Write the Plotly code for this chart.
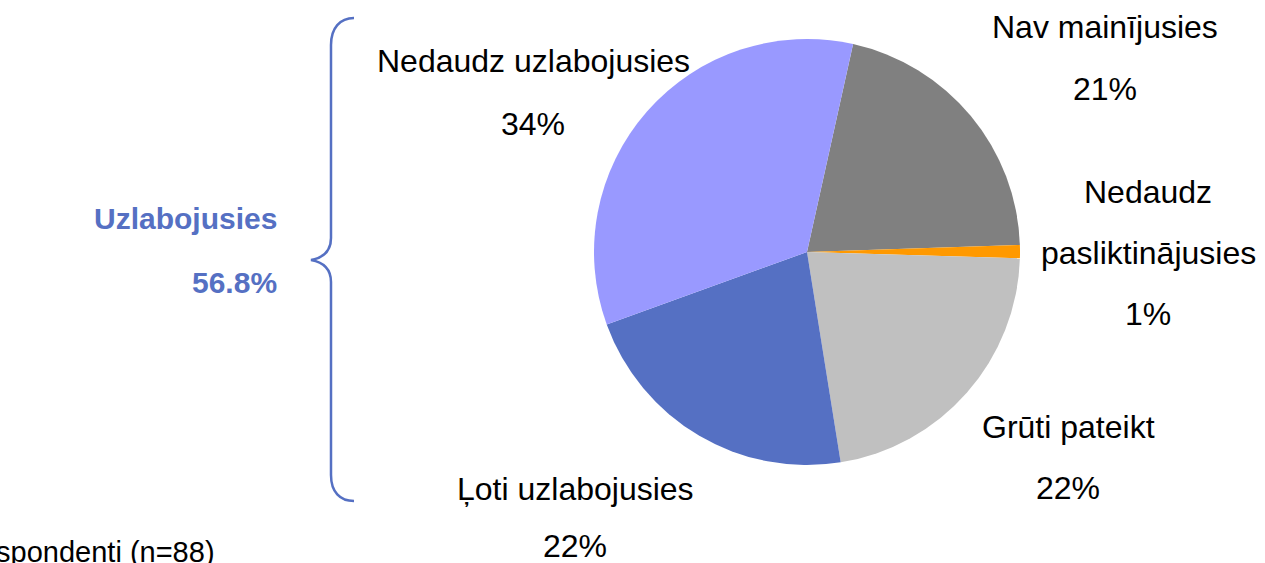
import plotly.graph_objects as go

W, H = 1265, 563

# ---- data ----
categories = ["Nav mainījusies", "Nedaudz pasliktinājusies", "Grūti pateikt",
              "Ļoti uzlabojusies", "Nedaudz uzlabojusies"]
shares = [21, 1, 22, 22, 34]
group_label = "Uzlabojusies"
group_share = 56.8
sample_note = "Respondenti (n=88)"

# ---- styles ----
colors = ["#808080", "#FF9900", "#C0C0C0", "#5570C3", "#9999FF"]
label_lines = [
    ["Nav mainījusies"],
    ["Nedaudz", "pasliktinājusies"],
    ["Grūti pateikt"],
    ["Ļoti uzlabojusies"],
    ["Nedaudz uzlabojusies"],
]
# label block placement (pixels): x centre, y of first line, line step
label_pos = [(1105, 27, 62), (1148, 192, 61), (1068, 427, 61), (575, 489, 57), (533, 61, 63)]

FONT = "Liberation Sans, Arial, sans-serif"

def px(x):
    return x / W

def py(y):
    return 1 - y / H

cx, cy, r = 807, 252, 213

fig = go.Figure(go.Pie(
    labels=categories,
    values=shares,
    marker=dict(colors=colors, line=dict(width=0)),
    sort=False,
    direction="clockwise",
    rotation=12.5,
    textinfo="none",
    hoverinfo="label+percent",
    domain=dict(x=[px(cx - r), px(cx + r)], y=[py(cy + r), py(cy - r)]),
    showlegend=False,
))

annotations = []
for cat_lines, val, (x, y0, step) in zip(label_lines, shares, label_pos):
    lines = cat_lines + [f"{val}%"]
    for i, t in enumerate(lines):
        annotations.append(dict(
            x=px(x), y=py(y0 + i * step), xref="paper", yref="paper",
            text=t, showarrow=False, xanchor="center", yanchor="middle",
            font=dict(family=FONT, size=32, color="#000000"),
        ))

for i, t in enumerate([group_label, f"{group_share}%"]):
    annotations.append(dict(
        x=px(279), y=py(218 + i * 65), xref="paper", yref="paper",
        text=f"<b>{t}</b>", showarrow=False, xanchor="right", yanchor="middle",
        font=dict(family=FONT, size=30, color="#5570C3"),
    ))

annotations.append(dict(
    x=px(217), y=py(552), xref="paper", yref="paper",
    text=sample_note, showarrow=False, xanchor="right", yanchor="middle",
    font=dict(family=FONT, size=29, color="#000000"),
))

# curly brace (decoration) in paper coordinates
def P(x, y):
    return f"{px(x):.5f},{py(y):.5f}"

brace = (
    f"M {P(354, 18)} C {P(340, 18)} {P(331, 28)} {P(331, 45)} "
    f"L {P(331, 238)} C {P(331, 252)} {P(322, 258)} {P(311, 260)} "
    f"C {P(322, 262)} {P(331, 268)} {P(331, 282)} "
    f"L {P(331, 475)} C {P(331, 492)} {P(340, 501)} {P(354, 501)}"
)

fig.update_layout(
    width=W, height=H,
    margin=dict(l=0, r=0, t=0, b=0),
    paper_bgcolor="white",
    plot_bgcolor="white",
    annotations=annotations,
    shapes=[dict(type="path", path=brace, xref="paper", yref="paper",
                 line=dict(color="#5570C3", width=2.5))],
)

fig.write_html("out.html", config={"displayModeBar": False},
               post_script="document.body.style.margin='0';")
